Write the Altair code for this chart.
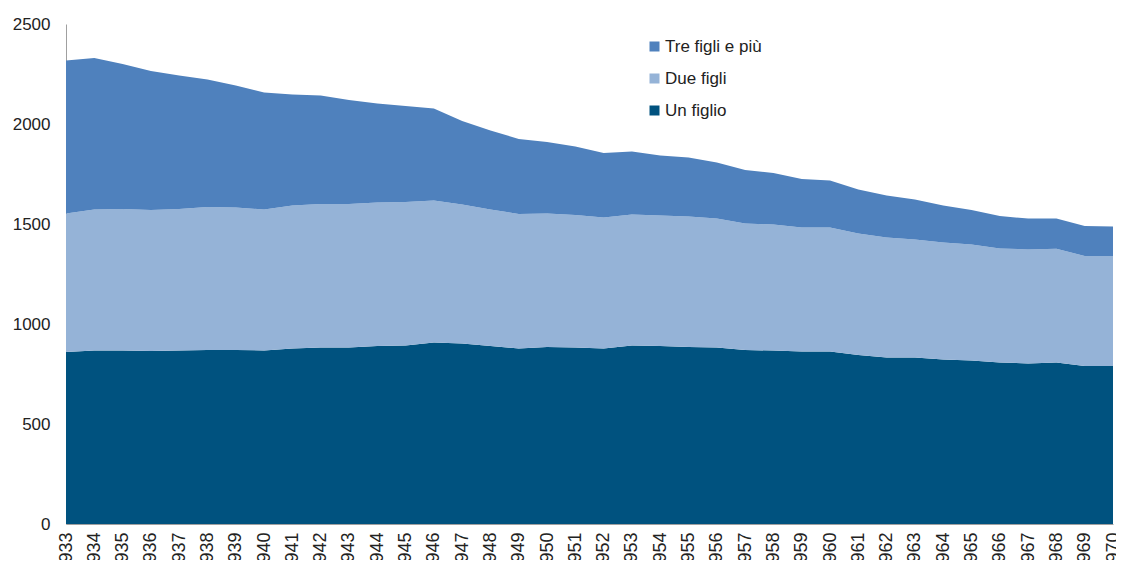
import altair as alt
import pandas as pd

years = list(range(1933, 1971))

un_figlio = [860, 868, 868, 865, 868, 870, 870, 868, 878, 882, 883, 890, 893, 908,
             902, 890, 878, 885, 883, 878, 892, 890, 885, 882, 870, 867, 863, 863,
             845, 833, 832, 823, 818, 808, 803, 808, 790, 790]

# cumulative top of "Due figli"
due_top = [1553, 1573, 1575, 1570, 1575, 1585, 1582, 1573, 1593, 1600, 1600, 1607, 1610, 1618,
           1598, 1573, 1550, 1553, 1545, 1533, 1548, 1542, 1538, 1527, 1503, 1497, 1482, 1482,
           1452, 1433, 1423, 1408, 1397, 1378, 1373, 1376, 1340, 1340]

# cumulative total (top of "Tre figli e più")
totale = [2317, 2330, 2300, 2265, 2242, 2223, 2192, 2158, 2148, 2142, 2120, 2102, 2090, 2078,
          2015, 1968, 1925, 1910, 1887, 1855, 1863, 1843, 1832, 1808, 1770, 1755, 1725, 1717,
          1673, 1643, 1623, 1592, 1570, 1540, 1527, 1527, 1490, 1487]

due_figli = [d - u for d, u in zip(due_top, un_figlio)]
tre_figli = [t - d for t, d in zip(totale, due_top)]

series = ["Tre figli e più", "Due figli", "Un figlio"]
colors = ["#4F81BD", "#95B3D7", "#00527F"]

rows = []
for i, y in enumerate(years):
    rows.append({"anno": str(y), "serie": "Un figlio", "valore": un_figlio[i], "ord": 0})
    rows.append({"anno": str(y), "serie": "Due figli", "valore": due_figli[i], "ord": 1})
    rows.append({"anno": str(y), "serie": "Tre figli e più", "valore": tre_figli[i], "ord": 2})
df = pd.DataFrame(rows)

FONT = "Liberation Sans"
NARROW = "Liberation Sans Narrow, Liberation Sans"

chart = alt.Chart(df).mark_area(interpolate="linear").encode(
    x=alt.X("anno:O", scale=alt.Scale(padding=0),
            axis=alt.Axis(title=None, labelAngle=-90, labelFontSize=18, labelFont=NARROW,
                          labelColor="#222222", ticks=False, domainColor="#A0A0A0",
                          labelPadding=8, labelBaseline="middle", labelAlign="right")),
    y=alt.Y("valore:Q", stack="zero",
            scale=alt.Scale(domain=[0, 2500], nice=False),
            axis=alt.Axis(title=None, values=[0, 500, 1000, 1500, 2000, 2500], grid=False,
                          format="d", ticks=False, labelFontSize=17, labelFont=FONT,
                          labelColor="#222222", domainColor="#A0A0A0", labelPadding=16)),
    color=alt.Color("serie:N", scale=alt.Scale(domain=series, range=colors),
                    legend=alt.Legend(title=None, orient="none", legendX=580, legendY=14,
                                      symbolType="square", symbolSize=100, symbolStrokeWidth=0,
                                      labelFontSize=17, labelFont=FONT, labelColor="#222222",
                                      rowPadding=14, labelOffset=2)),
    order=alt.Order("ord:Q", sort="ascending"),
).properties(
    width=1047, height=500,
    autosize=alt.AutoSizeParams(type="none"),
    padding={"left": 58, "top": 16, "right": 3, "bottom": 36},
).configure_view(stroke=None)

chart.save("out.html", embed_options={"renderer": "svg", "actions": False})
